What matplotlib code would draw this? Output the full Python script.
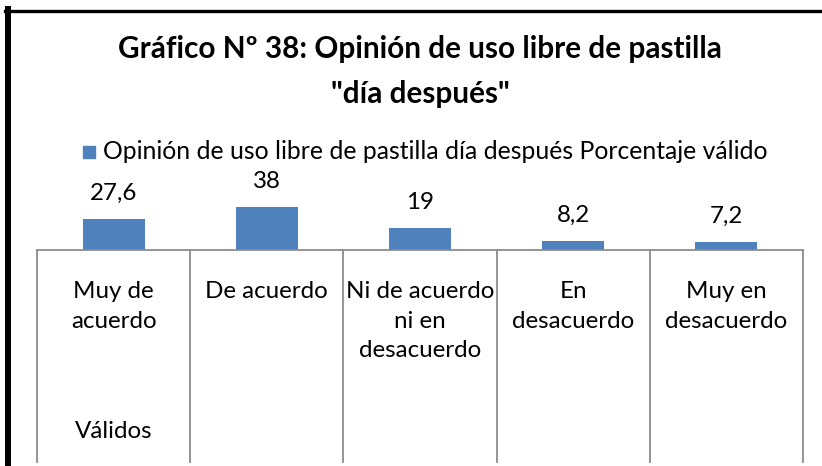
import matplotlib
matplotlib.use("Agg")
import matplotlib.pyplot as plt
from matplotlib.transforms import blended_transform_factory
from matplotlib.lines import Line2D
from matplotlib.patches import Rectangle

plt.rcParams['font.family'] = ['Lato', 'DejaVu Sans']

title = 'Gráfico Nº 38: Opinión de uso libre de pastilla\n"día después"'
series_name = 'Opinión de uso libre de pastilla día después Porcentaje válido'
categories = ['Muy de\nacuerdo', 'De acuerdo', 'Ni de acuerdo\nni en\ndesacuerdo',
              'En\ndesacuerdo', 'Muy en\ndesacuerdo']
values = [27.6, 38, 19, 8.2, 7.2]
value_labels = ['27,6', '38', '19', '8,2', '7,2']
group_label = 'Válidos'

W, H = 822, 466
fig = plt.figure(figsize=(W / 100, H / 100), dpi=100)

def fx(px):
    return px / W

def fy(py):
    return 1 - py / H

FS = 17.4

# plot area: baseline at y=250 px, 40 units ~ 45 px tall
ax_left, ax_right, base_y, top_y = 37, 803, 250, 204.7
ax = fig.add_axes([fx(ax_left), fy(base_y), fx(ax_right - ax_left), (base_y - top_y) / H])
ax.set_xlim(-0.5, len(categories) - 0.5)
ax.set_ylim(0, 40)

bar_color = '#4F81BD'
ax.bar(range(len(values)), values, width=0.405, color=bar_color, zorder=2)
for i, (v, lab) in enumerate(zip(values, value_labels)):
    ax.annotate(lab, (i, v), xytext=(0, 11), textcoords='offset points',
                ha='center', va='bottom', fontsize=FS, color='black',
                annotation_clip=False)

for s in ['top', 'right', 'left']:
    ax.spines[s].set_visible(False)
ax.spines['bottom'].set_color('#8C8C8C')
ax.spines['bottom'].set_linewidth(1.3)
ax.set_xticks([])
ax.set_yticks([])

# category separators running down below the baseline
trans = blended_transform_factory(ax.transData, fig.transFigure)
for b in [i - 0.5 for i in range(len(categories) + 1)]:
    fig.add_artist(Line2D([b, b], [fy(base_y), fy(462)], transform=trans,
                          color='#8C8C8C', lw=1.3))

for i, cat in enumerate(categories):
    fig.text(i, fy(281), cat, transform=trans, ha='center', va='top',
             fontsize=FS, linespacing=1.5, color='black')
fig.text(0, fy(432), group_label, transform=trans, ha='center', va='center',
         fontsize=FS, color='black')

# title
fig.text(fx(420), fy(71.5), title, ha='center', va='center', fontsize=21.4,
         fontweight='bold', linespacing=1.72, color='black')

# legend
fig.add_artist(Rectangle((fx(83), fy(158)), fx(12), 12 / H, color=bar_color,
                         transform=fig.transFigure))
fig.text(fx(103), fy(152), series_name, ha='left', va='center', fontsize=17.8,
         color='black')

# outer frame: top and left edges
fig.add_artist(Line2D([fx(5), 1], [fy(10.5), fy(10.5)], transform=fig.transFigure,
                      color='black', lw=2.4))
fig.add_artist(Line2D([fx(8), fx(8)], [fy(9), 0], transform=fig.transFigure,
                      color='black', lw=4.3))

fig.savefig('out.png', dpi=100)
